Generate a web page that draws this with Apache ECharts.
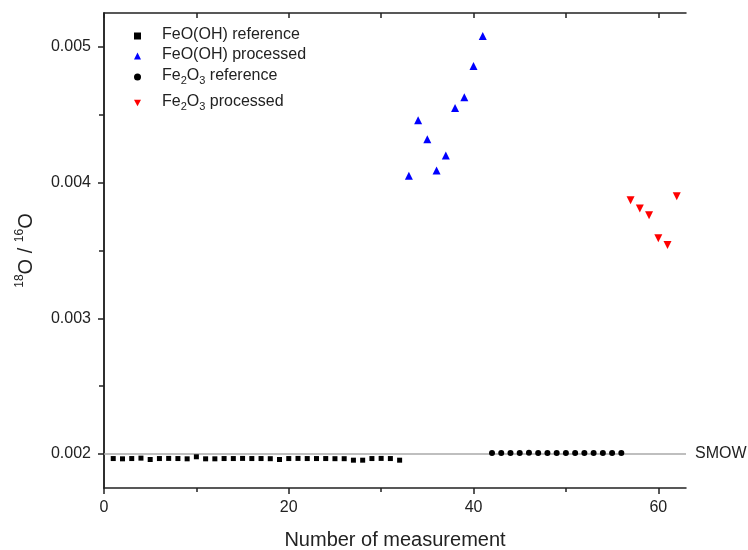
<!DOCTYPE html>
<html><head><meta charset="utf-8">
<script src="https://cdn.jsdelivr.net/npm/echarts@6/dist/echarts.min.js"></script>
<style>html,body{margin:0;padding:0;background:#fff}#c{width:748px;height:550px}</style>
</head><body><div id="c"></div>
<script>
const seriesNames = ['FeO(OH) reference', 'FeO(OH) processed', 'Fe2O3 reference', 'Fe2O3 processed'];
const feoohRefX = [1,2,3,4,5,6,7,8,9,10,11,12,13,14,15,16,17,18,19,20,21,22,23,24,25,26,27,28,29,30,31,32];
const feoohRefY = [0.001967,0.001965,0.001967,0.00197,0.00196,0.001967,0.001968,0.001967,0.001965,0.00198,
                   0.001965,0.001965,0.001967,0.001967,0.001968,0.001967,0.001967,0.001966,0.00196,0.001967,
                   0.001968,0.001967,0.001967,0.001967,0.001966,0.001966,0.001955,0.001955,0.001967,0.001968,
                   0.001967,0.001955];
const feoohProcX = [33,34,35,36,37,38,39,40,41];
const feoohProcY = [0.00405,0.00446,0.00432,0.00409,0.00420,0.00455,0.00463,0.00486,0.00508];
const fe2o3RefX = [42,43,44,45,46,47,48,49,50,51,52,53,54,55,56];
const fe2o3RefY = [0.002007,0.002007,0.002008,0.002008,0.002009,0.002008,0.002008,0.002007,0.002007,0.002007,0.002007,0.002007,0.002007,0.002007,0.002007];
const fe2o3ProcX = [57,58,59,60,61,62];
const fe2o3ProcY = [0.00387,0.00381,0.00376,0.00359,0.00354,0.00390];
const xMajorTicks = [0,20,40,60];
const xMinorTicks = [10,30,50];
const xTopTicks = [0,10,20,30,40,50,60];
const yMajorTicks = [0.002,0.003,0.004,0.005];
const yMinorTicks = [0.0025,0.0035,0.0045];
const yRightTicks = [0.002,0.0025,0.003,0.0035,0.004,0.0045,0.005];
const smowLevel = [0.002];
const smowLabel = 'SMOW';
const xAxisTitle = 'Number of measurement';

const FONT = "'Liberation Sans', Arial, sans-serif";
const INK = '#222';
const X_MIN = 0, X_MAX = 63, Y_MIN = 0.00175, Y_MAX = 0.00525;
const DOWN_TRIANGLE = 'path://M0,0L10,0L5,9Z';

function pairs(xs, ys) { return xs.map((x, i) => [x, ys[i]]); }

const chart = echarts.init(document.getElementById('c'), null, {renderer: 'canvas'});

const axisLineStyle = {show: true, lineStyle: {color: INK, width: 1.5}};

function legendFmt(name) {
  if (name.indexOf('Fe2O3') === 0) {
    return '{f|Fe}{s|2}{n|O}{s|3}{n|' + name.slice(5) + '}';
  }
  return '{f|' + name + '}';
}
const legendText = {
  fontSize: 16, color: INK, fontFamily: FONT,
  rich: {
    f: {fontSize: 16, color: INK, fontFamily: FONT, lineHeight: 18, verticalAlign: 'top', padding: [0, 0, 0, 16]},
    n: {fontSize: 16, color: INK, fontFamily: FONT, lineHeight: 18, verticalAlign: 'top'},
    s: {fontSize: 11, color: INK, fontFamily: FONT, lineHeight: 11, verticalAlign: 'bottom', padding: [11, 0, 0, 0]}
  }
};
const legendTops = [27, 47, 64, 90];
const legendIcons = [null, null, null, DOWN_TRIANGLE];
const legends = seriesNames.map((nm, i) => ({
  data: [legendIcons[i] ? {name: nm, icon: legendIcons[i]} : nm],
  left: 134, top: legendTops[i], padding: 0,
  itemWidth: 7, itemHeight: 7, orient: 'vertical',
  selectedMode: false, formatter: legendFmt, textStyle: legendText
}));

const option = {
  animation: false,
  backgroundColor: '#fff',
  textStyle: {fontFamily: FONT},
  legend: legends,
  grid: {left: 104, right: 62, top: 13, bottom: 62, containLabel: false, outerBoundsMode: 'none'},
  xAxis: [
    {type: 'value', position: 'bottom', min: X_MIN, max: X_MAX,
     name: xAxisTitle, nameLocation: 'middle', nameGap: 42,
     nameTextStyle: {fontSize: 20, color: INK, fontFamily: FONT},
     axisLine: axisLineStyle,
     axisTick: {show: true, customValues: xMajorTicks, length: 6, inside: false, lineStyle: {color: INK, width: 1.5}},
     axisLabel: {show: true, customValues: xMajorTicks, margin: 12, fontSize: 16, color: INK, fontFamily: FONT},
     splitLine: {show: false}},
    {type: 'value', position: 'bottom', min: X_MIN, max: X_MAX,
     axisLine: {show: false},
     axisTick: {show: true, customValues: xMinorTicks, length: 4, inside: false, lineStyle: {color: INK, width: 1.5}},
     axisLabel: {show: false}, splitLine: {show: false}},
    {type: 'value', position: 'top', min: X_MIN, max: X_MAX,
     axisLine: axisLineStyle,
     axisTick: {show: true, customValues: xTopTicks, length: 5, inside: true, lineStyle: {color: INK, width: 1.5}},
     axisLabel: {show: false}, splitLine: {show: false}}
  ],
  yAxis: [
    {type: 'value', position: 'left', min: Y_MIN, max: Y_MAX,
     name: '{p|18}{m|O / }{p|16}{m|O}', nameLocation: 'middle', nameGap: 64,
     nameTextStyle: {fontSize: 20, color: INK, fontFamily: FONT,
       rich: {
         m: {fontSize: 20, color: INK, fontFamily: FONT, lineHeight: 22, verticalAlign: 'bottom'},
         p: {fontSize: 12, color: INK, fontFamily: FONT, lineHeight: 12, verticalAlign: 'top', padding: [0, 0, 14, 0]}
       }},
     axisLine: axisLineStyle,
     axisTick: {show: true, customValues: yMajorTicks, length: 6, inside: false, lineStyle: {color: INK, width: 1.5}},
     axisLabel: {show: true, customValues: yMajorTicks, margin: 13, fontSize: 16, color: INK, fontFamily: FONT,
       formatter: v => v.toFixed(3)},
     splitLine: {show: false}},
    {type: 'value', position: 'left', min: Y_MIN, max: Y_MAX,
     axisLine: {show: false},
     axisTick: {show: true, customValues: yMinorTicks, length: 4, inside: false, lineStyle: {color: INK, width: 1.5}},
     axisLabel: {show: false}, splitLine: {show: false}},
    {type: 'value', position: 'right', min: Y_MIN, max: Y_MAX,
     axisLine: axisLineStyle,
     axisTick: {show: true, customValues: yRightTicks, length: 5, inside: true, lineStyle: {color: INK, width: 1.5}},
     axisLabel: {show: false}, splitLine: {show: false}}
  ],
  series: [
    {name: smowLabel, type: 'line', xAxisIndex: 0, yAxisIndex: 0,
     data: [[X_MIN, smowLevel[0]], [X_MAX, smowLevel[0]]],
     showSymbol: false, symbol: 'none', silent: true, z: 1,
     lineStyle: {color: '#aaaaaa', width: 1.5, type: 'solid'},
     endLabel: {show: true, formatter: smowLabel, color: INK, fontSize: 16, fontFamily: FONT, distance: 9}},
    {name: seriesNames[0], type: 'scatter', xAxisIndex: 0, yAxisIndex: 0,
     symbol: 'rect', symbolSize: 5, itemStyle: {color: '#000', opacity: 1},
     data: pairs(feoohRefX, feoohRefY), z: 5},
    {name: seriesNames[1], type: 'scatter', xAxisIndex: 0, yAxisIndex: 0,
     symbol: 'triangle', symbolSize: 8, itemStyle: {color: '#0000ff', opacity: 1},
     data: pairs(feoohProcX, feoohProcY), z: 5},
    {name: seriesNames[2], type: 'scatter', xAxisIndex: 0, yAxisIndex: 0,
     symbol: 'circle', symbolSize: 6, itemStyle: {color: '#000', opacity: 1},
     data: pairs(fe2o3RefX, fe2o3RefY), z: 5},
    {name: seriesNames[3], type: 'scatter', xAxisIndex: 0, yAxisIndex: 0,
     symbol: DOWN_TRIANGLE, symbolSize: [8, 8], itemStyle: {color: '#ff0000', opacity: 1},
     data: pairs(fe2o3ProcX, fe2o3ProcY), z: 5}
  ]
};
chart.setOption(option);
</script>
</body></html>
